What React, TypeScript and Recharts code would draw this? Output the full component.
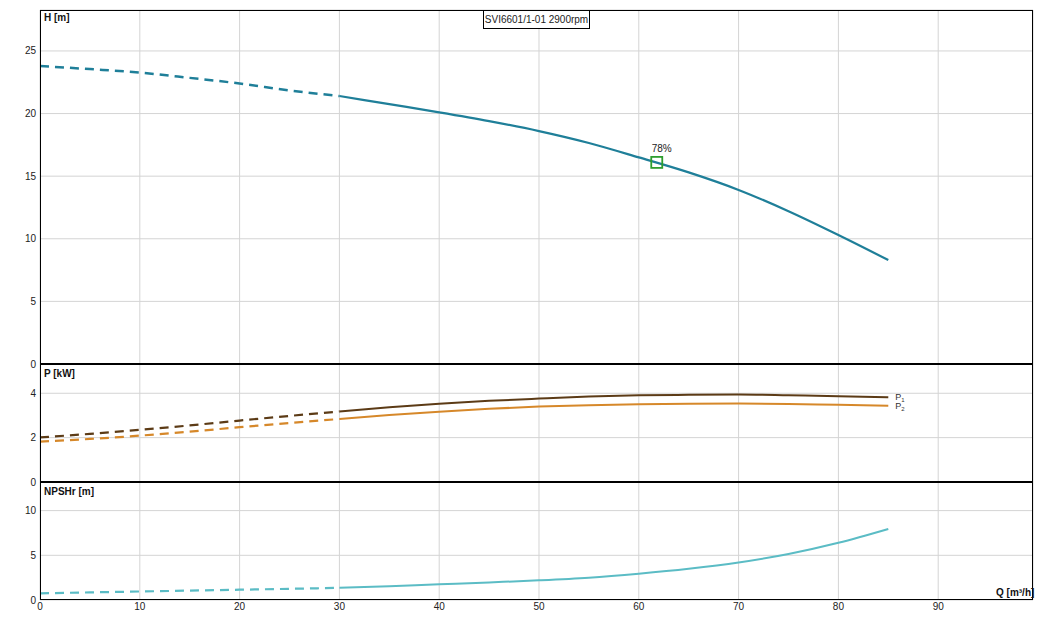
import React from 'react';
import { LineChart, Line, XAxis, YAxis, CartesianGrid, ReferenceDot } from 'recharts';

// flow rate Q [m³/h]
const qValues = [0, 5, 10, 15, 20, 25, 30, 35, 40, 45, 50, 55, 60, 65, 70, 75, 80, 85];
const headValues = [23.8, 23.55, 23.27, 22.85, 22.4, 21.85, 21.4, 20.75, 20.1, 19.4, 18.6, 17.65, 16.5, 15.3, 13.9, 12.2, 10.3, 8.3];
const p1Values = [2.01, 2.17, 2.35, 2.55, 2.77, 2.98, 3.18, 3.37, 3.53, 3.66, 3.76, 3.85, 3.91, 3.93, 3.94, 3.91, 3.87, 3.82];
const p2Values = [1.82, 1.94, 2.09, 2.27, 2.47, 2.66, 2.84, 3.02, 3.17, 3.3, 3.4, 3.46, 3.5, 3.53, 3.54, 3.52, 3.48, 3.44];
const npshValues = [0.75, 0.85, 0.95, 1.05, 1.15, 1.25, 1.36, 1.55, 1.76, 1.97, 2.2, 2.5, 2.95, 3.5, 4.2, 5.15, 6.4, 7.95];

const qTicks = [0, 10, 20, 30, 40, 50, 60, 70, 80, 90];
const headTicks = [0, 5, 10, 15, 20, 25];
const powerTicks = [0, 2, 4];
const npshTicks = [0, 5, 10];

const dashedUntil = 30;
const bepQ = 61.8;
const bepHead = 16.1;
const bepLabel = '78%';
const title = 'SVI6601/1-01 2900rpm';

const font = '"Liberation Sans", Arial, sans-serif';
const gridColor = '#d4d4d4';
const headColor = '#1f7f99';
const p1Color = '#5c3b16';
const p2Color = '#d6882a';
const npshColor = '#5bbcc5';

// split every series into a dashed part (low flow) and a solid part
const rows = qValues.map((q, i) => ({
  q,
  hDash: q <= dashedUntil ? headValues[i] : null,
  hSolid: q >= dashedUntil ? headValues[i] : null,
  p1Dash: q <= dashedUntil ? p1Values[i] : null,
  p1Solid: q >= dashedUntil ? p1Values[i] : null,
  p2Dash: q <= dashedUntil ? p2Values[i] : null,
  p2Solid: q >= dashedUntil ? p2Values[i] : null,
  nDash: q <= dashedUntil ? npshValues[i] : null,
  nSolid: q >= dashedUntil ? npshValues[i] : null,
}));

const tickStyle = { fill: '#222', fontSize: 10, fontFamily: font };
const W = 1052;
const M = { top: 10, right: 19, left: 0, bottom: 0 };

// x axis for the upper panels: keeps the vertical grid, draws no labels
const xAxisHidden = (
  <XAxis dataKey="q" type="number" domain={[0, 99.5]} ticks={qTicks} tick={() => <g />} axisLine={false} tickLine={false} height={0} />
);

const powerLabel = (sub: string) => (props: any) => {
  if (props.index !== qValues.length - 1) return null;
  return (
    <text x={props.x + 7} y={props.y + 3} fill="#333" fontSize={9} fontFamily={font}>
      <tspan>P</tspan>
      <tspan fontSize={6} dy={2}>{sub}</tspan>
    </text>
  );
};

const BepMarker = (props: any) => {
  const { cx, cy } = props;
  return (
    <g>
      <rect x={cx - 5.5} y={cy - 5.5} width={11} height={11} fill="none" stroke="#2e9e2e" strokeWidth={1.8} />
      <text x={cx - 5} y={cy - 10} fontSize={10} fontFamily={font} fill="#222">{bepLabel}</text>
    </g>
  );
};

const boldLabel: React.CSSProperties = {
  position: 'absolute',
  fontFamily: font,
  fontWeight: 'bold',
  fontSize: 10,
  color: '#111',
  lineHeight: '10px',
  whiteSpace: 'nowrap',
};

export default function App() {
  return (
    <div style={{ position: 'absolute', left: 0, top: 0, width: W, height: 625, background: '#fff', overflow: 'hidden' }}>
      {/* head panel */}
      <div style={{ position: 'absolute', left: 0, top: 0 }}>
        <LineChart width={W} height={372} data={rows} margin={{ ...M, bottom: 8 }}>
          <CartesianGrid stroke={gridColor} />
          {xAxisHidden}
          <YAxis type="number" domain={[0, 28.27]} ticks={headTicks} width={40} axisLine={false} tickLine={false} tickSize={0} tickMargin={4} tick={tickStyle} allowDataOverflow />
          <Line dataKey="hDash" stroke={headColor} strokeWidth={2.5} strokeDasharray="9 6" dot={false} type="monotone" isAnimationActive={false} />
          <Line dataKey="hSolid" stroke={headColor} strokeWidth={2.2} dot={false} type="monotone" isAnimationActive={false} />
          <ReferenceDot x={bepQ} y={bepHead} shape={BepMarker} isFront />
        </LineChart>
      </div>
      {/* power panel */}
      <div style={{ position: 'absolute', left: 0, top: 354 }}>
        <LineChart width={W} height={138} data={rows} margin={{ ...M, bottom: 10 }}>
          <CartesianGrid stroke={gridColor} />
          {xAxisHidden}
          <YAxis type="number" domain={[0, 5.32]} ticks={powerTicks} width={40} axisLine={false} tickLine={false} tickSize={0} tickMargin={4} tick={tickStyle} allowDataOverflow />
          <Line dataKey="p1Dash" stroke={p1Color} strokeWidth={2.2} strokeDasharray="9 6" dot={false} type="monotone" isAnimationActive={false} />
          <Line dataKey="p1Solid" stroke={p1Color} strokeWidth={2} dot={false} type="monotone" isAnimationActive={false} label={powerLabel('1')} />
          <Line dataKey="p2Dash" stroke={p2Color} strokeWidth={2.2} strokeDasharray="9 6" dot={false} type="monotone" isAnimationActive={false} />
          <Line dataKey="p2Solid" stroke={p2Color} strokeWidth={2} dot={false} type="monotone" isAnimationActive={false} label={powerLabel('2')} />
        </LineChart>
      </div>
      {/* NPSHr panel */}
      <div style={{ position: 'absolute', left: 0, top: 472 }}>
        <LineChart width={W} height={153} data={rows} margin={M}>
          <CartesianGrid stroke={gridColor} />
          <XAxis dataKey="q" type="number" domain={[0, 99.5]} ticks={qTicks} axisLine={false} tickLine={false} tickSize={0} tickMargin={3} tick={tickStyle} height={25} allowDataOverflow />
          <YAxis type="number" domain={[0, 13.2]} ticks={npshTicks} width={40} axisLine={false} tickLine={false} tickSize={0} tickMargin={4} tick={tickStyle} allowDataOverflow />
          <Line dataKey="nDash" stroke={npshColor} strokeWidth={2.2} strokeDasharray="9 6" dot={false} type="monotone" isAnimationActive={false} />
          <Line dataKey="nSolid" stroke={npshColor} strokeWidth={2} dot={false} type="monotone" isAnimationActive={false} />
        </LineChart>
      </div>

      {/* frame and panel separators */}
      <div style={{ position: 'absolute', left: 40, top: 10, width: 993, height: 590, border: '1px solid #000', boxSizing: 'border-box', pointerEvents: 'none' }} />
      <div style={{ position: 'absolute', left: 40, top: 363, width: 993, height: 2, background: '#000' }} />
      <div style={{ position: 'absolute', left: 40, top: 481, width: 993, height: 2, background: '#000' }} />

      {/* title box */}
      <div style={{ position: 'absolute', left: 483, top: 10, width: 107, height: 19, border: '1px solid #000', boxSizing: 'border-box', background: '#fff', fontFamily: font, fontSize: 10, lineHeight: '17px', textAlign: 'center', color: '#222' }}>
        {title}
      </div>

      <div style={{ ...boldLabel, left: 44, top: 13 }}>H [m]</div>
      <div style={{ ...boldLabel, left: 44, top: 369 }}>P [kW]</div>
      <div style={{ ...boldLabel, left: 44, top: 487 }}>NPSHr [m]</div>
      <div style={{ ...boldLabel, left: 996, top: 588 }}>Q [m³/h]</div>
    </div>
  );
}
